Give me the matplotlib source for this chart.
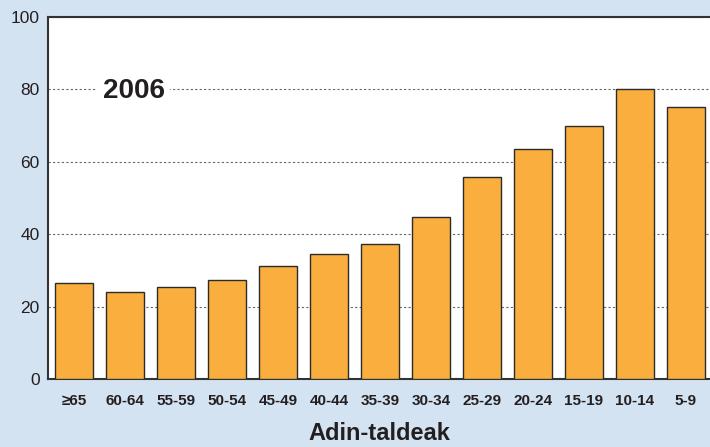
import numpy as np
import matplotlib.pyplot as plt

plt.rcParams['font.family'] = ['Liberation Sans', 'DejaVu Sans']

groups = ['≥65', '60-64', '55-59', '50-54', '45-49', '40-44', '35-39',
          '30-34', '25-29', '20-24', '15-19', '10-14', '5-9']
values = [26.5, 24.0, 25.4, 27.3, 31.2, 34.5, 37.3, 44.8, 55.8, 63.5, 69.9, 80.1, 75.1]
year_label = '2006'

bg = '#d4e3f1'
fig = plt.figure(figsize=[7.1, 4.47], dpi=100, facecolor=bg)
ax = fig.add_axes([48/710, 1-379/447, 1-48/710, 362/447])
ax.set_facecolor('white')

x = np.arange(len(groups))
ax.bar(x, values, width=0.75, color='#f9ae3d', edgecolor='#2b2b2b', linewidth=1.0, zorder=3)

ax.set_ylim(0, 100)
ax.set_xlim(-0.51, 12.47)
ax.set_yticks([0, 20, 40, 60, 80, 100])
ax.yaxis.grid(True, linestyle=(0, (2, 2)), color='#666666', linewidth=0.8, zorder=0)
ax.set_xticks(x)
ax.set_xticklabels(groups, fontsize=11, fontweight='bold', color='#231f20')
ax.tick_params(axis='y', labelsize=12.5, length=0, pad=6, labelcolor='#231f20')
ax.tick_params(axis='x', length=0, pad=11)

for s in ['left', 'bottom', 'top']:
    ax.spines[s].set_color('#333333')
    ax.spines[s].set_linewidth(1.5)
ax.spines['right'].set_visible(False)

ax.set_xlabel('Adin-taldeak', fontsize=17, fontweight='bold', color='#231f20', labelpad=10)

ax.text(1.17, 79.5, year_label, fontsize=20, fontweight='bold', color='#231f20',
        ha='center', va='center', zorder=4,
        bbox=dict(facecolor='white', edgecolor='none', pad=4))

fig.savefig('out.png', dpi=100, facecolor=bg)
